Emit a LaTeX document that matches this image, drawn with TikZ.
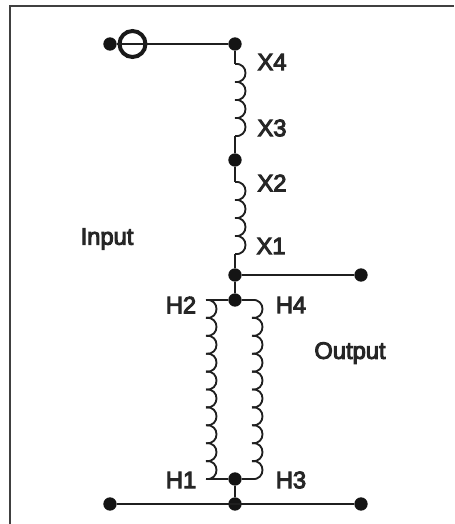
\documentclass[tikz,border=0pt]{standalone}
\usepackage{fontspec}
\setmainfont{Liberation Sans}
\newcommand{\fat}[1]{\special{pdf:code 2 Tr 0.75 w}#1\special{pdf:code 0 Tr}}
\tikzset{
  wire/.style={line width=1.5pt,color=black!88},
  coil/.style={line width=1.4pt,color=black!88,line join=round},
  dot/.style={circle,fill=black!92,inner sep=0pt,minimum size=10pt},
  lbl/.style={font=\fontsize{17.8pt}{19pt}\selectfont,text=black!85,inner sep=0pt,anchor=center}
}
% lobes: #1 x, #2 ystart, #3 number, #4 pitch
\newcommand{\drawlobes}[4]{%
  \foreach \k in {1,...,#3}{%
    \pgfmathsetmacro{\ya}{#2+(\k-1)*#4}%
    \pgfmathsetmacro{\yb}{#2+\k*#4}%
    \draw[coil] (#1,\ya) .. controls (#1+14,\ya-1.5) and (#1+14,\yb+1.5) .. (#1,\yb);
  }%
}
\begin{document}
\begin{tikzpicture}[x=0.75pt,y=-0.75pt]
\useasboundingbox (0,0) rectangle (454,524);
\draw[line width=1.5pt,color=black!75] (9.5,524) -- (9.5,6.5) -- (454,6.5);
% junctions
\node[dot] (in) at (110,44) {};
\node[dot] (x4) at (235,44) {};
\node[dot] (xm) at (235,160) {};
\node[dot] (x0) at (235,275) {};
\node[dot] (out) at (361,275) {};
\node[dot] (ht) at (235,300) {};
\node[dot] (hb) at (235,479) {};
\node[dot] (bm) at (235,504) {};
\node[dot] (bl) at (110,504) {};
\node[dot] (br) at (361,504) {};
\node[circle,draw=black!90,line width=3pt,minimum size=19.5pt,inner sep=0pt] (ring) at (132.5,44) {};
\draw[wire] (in) -- (x4);
\draw[wire] (x0) -- (out);
\draw[wire] (x0) -- (ht);
\draw[wire] (hb) -- (bm);
\draw[wire] (bl) -- (br);
% X coils
\coordinate (xa) at (235,64);
\coordinate (xb) at (235,136);
\coordinate (xc) at (235,182);
\coordinate (xd) at (235,254);
\draw[coil] (x4) -- (xa);
\draw[coil] (xb) -- (xm);
\draw[coil] (xm) -- (xc);
\draw[coil] (xd) -- (x0);
\drawlobes{235}{64}{4}{18}
\drawlobes{235}{182}{4}{18}
% H coils
\coordinate (la) at (206,300);
\coordinate (lb) at (206,479);
\coordinate (ra) at (252,300);
\coordinate (rb) at (252,479);
\draw[coil] (la) -- (ht);
\draw[coil] (lb) -- (hb);
\draw[coil] (ht) -- (ra);
\draw[coil] (hb) -- (rb);
\drawlobes{206}{300}{10}{17.9}
\drawlobes{252}{300}{10}{17.9}
% labels
\node[lbl] (lx4) at (272,62) {\fat{X4}};
\node[lbl] (lx3) at (272,128) {\fat{X3}};
\node[lbl] (lx2) at (272,183) {\fat{X2}};
\node[lbl] (lx1) at (271,246) {\fat{X1}};
\node[lbl] (lh2) at (181,305) {\fat{H2}};
\node[lbl] (lh4) at (291,305) {\fat{H4}};
\node[lbl] (lh1) at (181,480) {\fat{H1}};
\node[lbl] (lh3) at (291,480) {\fat{H3}};
\node[lbl] (lin) at (107,239) {\fat{Input}};
\node[lbl] (lout) at (350,353) {\fat{Output}};
\end{tikzpicture}
\end{document}
